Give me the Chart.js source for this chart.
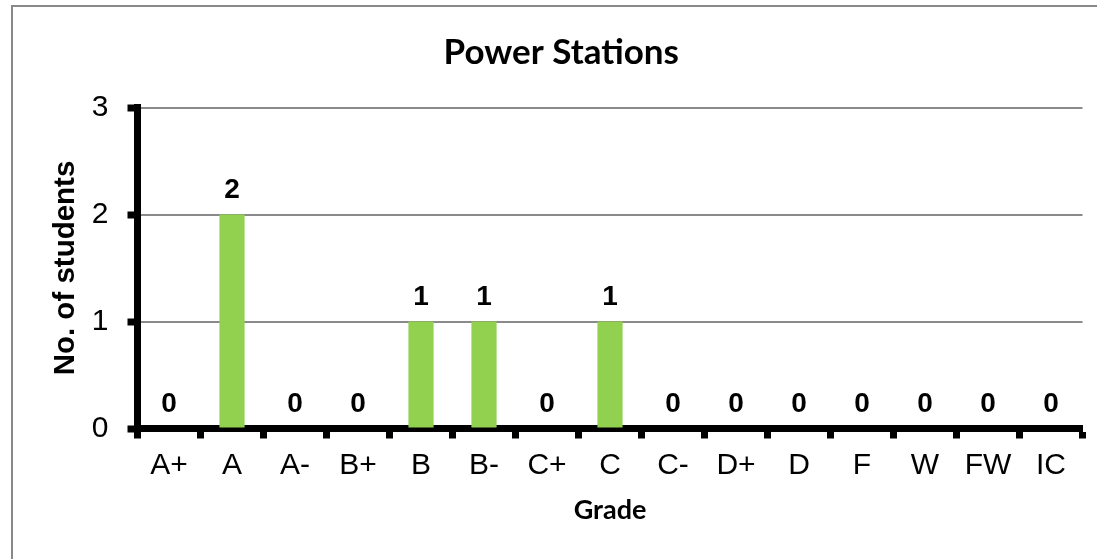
<!DOCTYPE html>
<html>
<head>
<meta charset="utf-8">
<script src="https://cdn.jsdelivr.net/npm/chart.js@4.4.0/dist/chart.umd.min.js"></script>
<style>
  body { margin: 0; background: #fff; overflow: hidden; }
  #frame { position: absolute; left: 11px; top: 5px; width: 1200px; height: 700px; border: 2px solid #898989; }
  #wrap { position: absolute; left: 0; top: 0; width: 1097px; height: 559px; }
</style>
</head>
<body>
<div id="frame"></div>
<div id="wrap"><canvas id="myChart" width="1097" height="559"></canvas></div>
<script>
// grades and how many students got each
const grades = ["A+", "A", "A-", "B+", "B", "B-", "C+", "C", "C-", "D+", "D", "F", "W", "FW", "IC"];
const students = [0, 2, 0, 0, 1, 1, 0, 1, 0, 0, 0, 0, 0, 0, 0];
const yTicks = [0, 1, 2, 3];

// draw the numbers above the bars
const barLabels = {
    id: "barLabels",
    afterDatasetsDraw(chart) {
        const ctx = chart.ctx;
        const meta = chart.getDatasetMeta(0);
        ctx.save();
        ctx.font = "bold 28px 'Liberation Sans', Arial, sans-serif";
        ctx.fillStyle = "#000";
        ctx.textAlign = "center";
        ctx.textBaseline = "alphabetic";
        meta.data.forEach((bar, i) => {
            ctx.fillText(String(students[i]), bar.x, bar.y - 17);
        });
        ctx.restore();
    }
};

const ctx = document.getElementById("myChart").getContext("2d");
const myChart = new Chart(ctx, {
    type: "bar",
    data: {
        labels: grades,
        datasets: [{
            label: "No. of students",
            data: students,
            backgroundColor: "#92D050",
            borderWidth: 0,
            barPercentage: 1,
            categoryPercentage: 0.4
        }]
    },
    options: {
        responsive: false,
        devicePixelRatio: 1,
        animation: false,
        layout: { padding: { left: 40, right: 14.5, top: 0, bottom: 0 } },
        plugins: {
            legend: { display: false },
            tooltip: { enabled: false },
            title: {
                display: true,
                text: "Power Stations",
                color: "#000",
                font: { family: "Lato, 'Open Sans', sans-serif", size: 35, weight: "bold" },
                padding: { top: 32, bottom: 33.5 }
            }
        },
        scales: {
            x: {
                afterFit(scale) { scale.height = 130.5; },
                border: { color: "#000", width: 7 },
                grid: {
                    offset: true,
                    drawOnChartArea: false,
                    drawTicks: true,
                    tickLength: 10,
                    tickWidth: 7,
                    tickColor: "#000",
                    color: "#000"
                },
                ticks: {
                    color: "#000",
                    padding: 9.5,
                    maxRotation: 0,
                    font: { family: "'Liberation Sans', Arial, sans-serif", size: 30 }
                },
                title: {
                    display: true,
                    text: "Grade",
                    color: "#000",
                    font: { family: "Lato, 'Open Sans', sans-serif", size: 27, weight: "bold" },
                    padding: { top: 0, bottom: 33 }
                }
            },
            y: {
                min: 0,
                max: 3,
                afterFit(scale) { scale.width = 97.5; },
                afterBuildTicks(scale) {
                    scale.ticks = yTicks.map(v => ({ value: v }));
                },
                border: { color: "#000", width: 7 },
                grid: {
                    color: "#8a8a8a",
                    lineWidth: 2,
                    tickLength: 10,
                    tickWidth: 7,
                    tickColor: "#000"
                },
                ticks: {
                    color: "#000",
                    padding: 19,
                    font: { family: "'Liberation Sans', Arial, sans-serif", size: 30 }
                },
                title: {
                    display: true,
                    text: "No. of students",
                    color: "#000",
                    font: { family: "'Liberation Sans', Arial, sans-serif", size: 29.5, weight: "bold" },
                    padding: { top: 8, bottom: 0 }
                }
            }
        }
    },
    plugins: [barLabels]
});
</script>
</body>
</html>
